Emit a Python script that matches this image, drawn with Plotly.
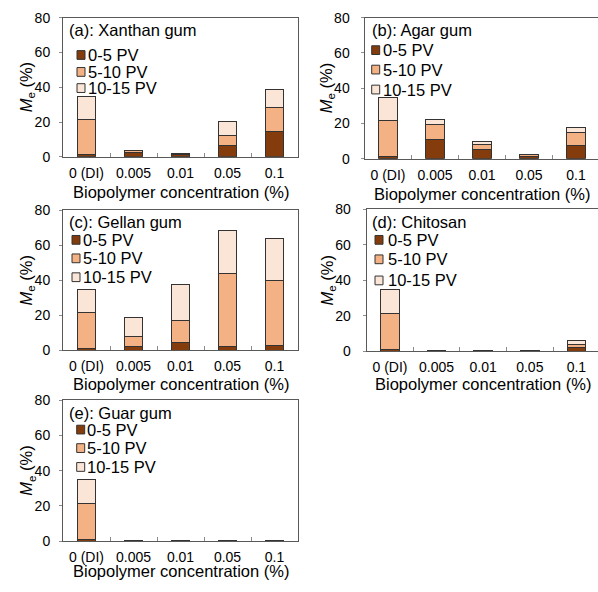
import plotly.graph_objects as go

# ---------------- data ----------------
categories = ["0 (DI)", "0.005", "0.01", "0.05", "0.1"]
series_names = ["0-5 PV", "5-10 PV", "10-15 PV"]
series_colors = ["#843C0C", "#F4B183", "#FBE5D6"]
y_tick_vals = [0, 20, 40, 60, 80]

xanthan_0_5 = [1.2, 2.4, 1.2, 6.7, 14.7]
xanthan_5_10 = [20.4, 1.0, 0.4, 5.4, 13.6]
xanthan_10_15 = [13.3, 0.1, 0.1, 8.0, 10.6]

agar_0_5 = [1.2, 11.0, 5.0, 1.2, 7.7]
agar_5_10 = [20.4, 8.3, 3.3, 1.0, 7.4]
agar_10_15 = [13.3, 3.0, 1.4, 0.4, 2.4]

gellan_0_5 = [1.2, 2.0, 4.3, 2.4, 3.0]
gellan_5_10 = [20.4, 6.0, 13.0, 41.3, 37.2]
gellan_10_15 = [13.3, 10.6, 20.5, 25.0, 23.6]

chitosan_0_5 = [1.2, 0.3, 0.1, 0.3, 2.0]
chitosan_5_10 = [20.4, 0.1, 0.1, 0.1, 2.0]
chitosan_10_15 = [13.3, 0.1, 0.1, 0.1, 2.4]

guar_0_5 = [1.2, 0.2, 0.2, 0.2, 0.2]
guar_5_10 = [20.4, 0.1, 0.1, 0.1, 0.1]
guar_10_15 = [13.3, 0.1, 0.1, 0.1, 0.1]

panel_titles = ["(a): Xanthan gum", "(b): Agar gum", "(c): Gellan gum",
                "(d): Chitosan", "(e): Guar gum"]
panel_series = [
    [xanthan_0_5, xanthan_5_10, xanthan_10_15],
    [agar_0_5, agar_5_10, agar_10_15],
    [gellan_0_5, gellan_5_10, gellan_10_15],
    [chitosan_0_5, chitosan_5_10, chitosan_10_15],
    [guar_0_5, guar_5_10, guar_10_15],
]
x_title = "Biopolymer concentration (%)"
y_title = "<i>M</i><sub>e</sub> (%)"

# ---------------- layout (pixel geometry) ----------------
W, H = 598, 592
FONT = "Arial, 'Liberation Sans', sans-serif"
TXT = "#000000"
FS = 16.5


def fx(px):
    return px / W


def fy(py):
    return 1 - py / H


geom = [
    dict(x0=63, x1=298, y0=10, y1=153, full=235, tx=67, ty=23, swx=77, txx=86,
         ly=[48.3, 65.7, 82.3], ytx=27, xty=189, ysd=6),
    dict(x0=364.5, x1=598, y0=10, y1=155, full=235, tx=370, ty=23, swx=371.7, txx=381,
         ly=[43.3, 63.3, 83.8], ytx=327, xty=191, ysd=8),
    dict(x0=63, x1=298, y0=208, y1=352, full=235, tx=67, ty=220, swx=72, txx=81,
         ly=[238.3, 257.3, 276.7], ytx=27, xty=386, ysd=6),
    dict(x0=366.7, x1=598, y0=207, y1=353, full=233, tx=370, ty=220, swx=375, txx=386,
         ly=[238.3, 258.3, 280], ytx=328, xty=386, ysd=9),
    dict(x0=63, x1=298, y0=403, y1=548, full=235, tx=67, ty=416.7, swx=76.7, txx=85,
         ly=[433.3, 452.3, 471.7], ytx=27, xty=579, ysd=6),
]

fig = go.Figure()
shapes = []
annotations = []
layout = {}

for i, (title, series, g) in enumerate(zip(panel_titles, panel_series, geom)):
    n = "" if i == 0 else str(i + 1)
    xa, ya = "x" + n, "y" + n
    for name, vals, col in zip(series_names, series, series_colors):
        fig.add_trace(go.Bar(
            x=categories, y=vals, name=name, xaxis=xa, yaxis=ya,
            marker=dict(color=col, line=dict(color="#333333", width=1)),
            width=0.4, showlegend=False,
        ))
    clipped = g["x1"] - g["x0"] < g["full"] - 0.5
    span = 5 * (g["x1"] - g["x0"]) / g["full"]
    layout["xaxis" + n] = dict(
        domain=[fx(g["x0"]), fx(g["x1"])], anchor=ya,
        type="category", range=[-0.5, -0.5 + span],
        showline=True, linecolor="#595959", linewidth=1, mirror=True,
        ticks="inside", tickson="boundaries", ticklen=4, tickcolor="#8c8c8c",
        tickfont=dict(family=FONT, size=14, color=TXT),
        ticklabelstandoff=3, showgrid=False, zeroline=False,
    )
    layout["yaxis" + n] = dict(
        domain=[fy(g["y1"]), fy(g["y0"])], anchor=xa,
        range=[0, 80], tickvals=y_tick_vals,
        showline=True, linecolor="#595959", linewidth=1,
        mirror=(False if clipped else True),
        ticks="outside", ticklen=3, tickcolor="#8c8c8c",
        tickfont=dict(family=FONT, size=14, color=TXT),
        ticklabelstandoff=g["ysd"], showgrid=False, zeroline=False,
    )
    # panel label
    annotations.append(dict(text=title, xref="paper", yref="paper",
                            x=fx(g["tx"]), y=fy(g["ty"]), xanchor="left", yanchor="middle",
                            showarrow=False, font=dict(family=FONT, size=FS, color=TXT)))
    # legend entries
    for name, col, ly in zip(series_names, series_colors, g["ly"]):
        shapes.append(dict(type="rect", xref="paper", yref="paper",
                           x0=fx(g["swx"]), x1=fx(g["swx"] + 8),
                           y0=fy(ly + 4.5), y1=fy(ly - 4.5),
                           fillcolor=col, line=dict(color="#333333", width=1)))
        annotations.append(dict(text=name, xref="paper", yref="paper",
                                x=fx(g["txx"]), y=fy(ly), xanchor="left", yanchor="middle",
                                showarrow=False, font=dict(family=FONT, size=FS, color=TXT)))
    # axis titles
    annotations.append(dict(text=x_title, xref="paper", yref="paper",
                            x=fx((g["x0"] + g["x0"] + g["full"]) / 2), y=fy(g["xty"]),
                            xanchor="center", yanchor="middle", showarrow=False,
                            font=dict(family=FONT, size=FS, color=TXT)))
    annotations.append(dict(text=y_title, xref="paper", yref="paper",
                            x=fx(g["ytx"]), y=fy((g["y0"] + g["y1"]) / 2),
                            xanchor="center", yanchor="middle", textangle=-90, showarrow=False,
                            font=dict(family=FONT, size=FS, color=TXT)))

fig.update_layout(
    width=W, height=H, margin=dict(l=0, r=0, t=0, b=0),
    paper_bgcolor="white", plot_bgcolor="white",
    barmode="stack", showlegend=False,
    shapes=shapes, annotations=annotations,
    **layout,
)

fig.write_html(
    "out.html",
    post_script="document.body.style.margin='0';document.body.style.padding='0';"
                "document.body.style.overflow='hidden';",
)
